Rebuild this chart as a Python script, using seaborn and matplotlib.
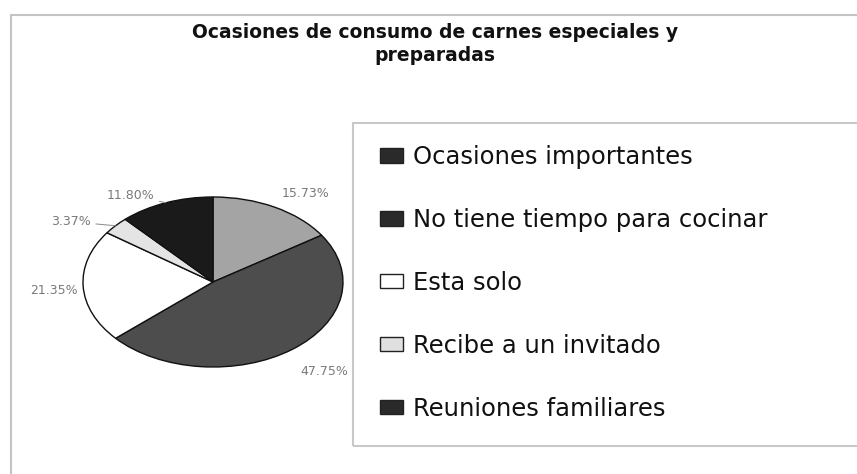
import numpy as np
import matplotlib
matplotlib.use("Agg")
import matplotlib.pyplot as plt
import seaborn as sns
from matplotlib.patches import Patch, Rectangle

sns.set_theme(style="white")
plt.rcParams['font.family'] = ['DejaVu Sans']

# data
categories = ["Ocasiones importantes", "No tiene tiempo para cocinar", "Esta solo",
              "Recibe a un invitado", "Reuniones familiares"]
values = [15.73, 47.75, 21.35, 3.37, 11.80]
pct_labels = ["15.73%", "47.75%", "21.35%", "3.37%", "11.80%"]
title = "Ocasiones de consumo de carnes especiales y\npreparadas"

slice_colors = ["#a4a4a4", "#4d4d4d", "#ffffff", "#e4e4e4", "#1a1a1a"]
legend_colors = ["#2a2a2a", "#2a2a2a", "#ffffff", "#e0e0e0", "#2a2a2a"]

W, H = 857, 474
fig = plt.figure(figsize=(W / 100, H / 100), dpi=100)
fig.patch.set_facecolor("white")

# outer chart border
fig.patches.append(Rectangle((11 / W, -0.05), 1.1, (H - 15) / H + 0.05,
                             transform=fig.transFigure, fill=False,
                             edgecolor="#c4c4c4", lw=1.5))
# legend box
fig.patches.append(Rectangle((353 / W, (H - 446) / H), 1.0, (446 - 123) / H,
                             transform=fig.transFigure, fill=False,
                             edgecolor="#c8c8c8", lw=1.5))

fig.text(435 / W, 1 - 44 / H, title, ha="center", va="center",
         fontsize=13.5, fontweight="bold", color="#111111", linespacing=1.3)

# pie axes (ellipse)
cx, cy, rx, ry = 213, 282, 130, 85
ax = fig.add_axes([(cx - rx) / W, (H - cy - ry) / H, 2 * rx / W, 2 * ry / H])
wedges, _ = ax.pie(values, colors=slice_colors, startangle=90, counterclock=False,
                   wedgeprops=dict(edgecolor="#111111", linewidth=1.0))
ax.set_aspect("auto")
ax.set_xlim(-1, 1)
ax.set_ylim(-1, 1)
ax.axis("off")

label_pos = [(1.26, -6), (1.36, 1.5), (1.224, 1.4), (1.30, 8.4), (1.20, 10.5)]
for w, lab, (dist, dang) in zip(wedges, pct_labels, label_pos):
    mid = np.deg2rad((w.theta1 + w.theta2) / 2)
    ang = mid + np.deg2rad(dang)
    tx, ty = dist * np.cos(ang), dist * np.sin(ang)
    if lab in ("3.37%", "11.80%"):
        ex, ey = np.cos(mid), np.sin(mid)
        ax.annotate(lab, xy=(ex, ey), xytext=(tx, ty), ha="center", va="center",
                    fontsize=9, color="#7a7a7a", annotation_clip=False,
                    arrowprops=dict(arrowstyle="-", color="#8a8a8a", lw=0.7,
                                    shrinkA=1, shrinkB=0))
    else:
        ax.text(tx, ty, lab, ha="center", va="center", fontsize=9, color="#7a7a7a")

handles = [Patch(facecolor=c, edgecolor="#222222", linewidth=1.0) for c in legend_colors]
leg = fig.legend(handles, categories, loc="upper left",
                 bbox_to_anchor=(368 / W, 1 - 133 / H), frameon=False,
                 fontsize=17.5, labelspacing=1.6, handlelength=0.92, handleheight=0.53,
                 handletextpad=0.45, borderpad=0)
for t in leg.get_texts():
    t.set_color("#111111")

fig.savefig("out.png", dpi=100, facecolor="white")
